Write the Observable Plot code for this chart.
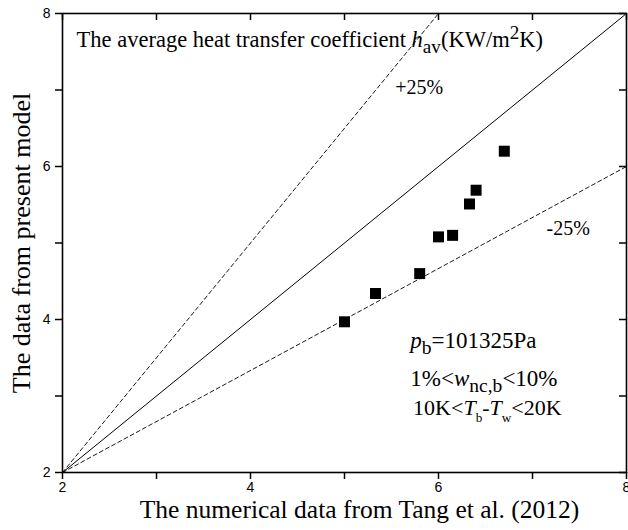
<!DOCTYPE html>
<html>
<head>
<meta charset="utf-8">
<script src="https://cdn.jsdelivr.net/npm/d3@7"></script>
<script src="https://cdn.jsdelivr.net/npm/@observablehq/plot@0.6"></script>
<style>
  html, body { margin: 0; padding: 0; background: #fff; }
  #chart { width: 628px; height: 530px; }
</style>
</head>
<body>
<div id="chart"></div>
<script>
// Axis ticks
const majorTicks = [2, 4, 6, 8];
const minorTicks = [3, 5, 7];
const allTicks = [2, 3, 4, 5, 6, 7, 8];

// Reference data (Tang et al. 2012) vs. present model, h_av in KW/m²K
const tangData = [5.00, 5.33, 5.80, 6.00, 6.15, 6.33, 6.40, 6.70];
const modelData = [3.97, 4.34, 4.60, 5.08, 5.10, 5.51, 5.69, 6.20];

// Agreement line and ±25% bands (end points)
const equalLine = [[2, 2], [8, 8]];
const plusLine = [[2, 2], [6, 8]];
const minusLine = [[2, 2], [8, 6]];

// Axis titles
const xTitle = "The numerical data from Tang et al. (2012)";
const yTitle = "The data from present model";

// Annotations: position, font size and styled text runs
const annotations = [
  {x: 2.15, y: 7.66, size: 22.5, parts: [["The average heat transfer coefficient "], ["h", "i"], ["av", "sub"], ["(KW/m"], ["2", "sup"], ["K)"]]},
  {x: 5.54, y: 7.03, size: 20, parts: [["+25%"]]},
  {x: 7.15, y: 5.19, size: 20, parts: [["-25%"]]},
  {x: 5.70, y: 3.73, size: 23, parts: [["p", "i"], ["b", "sub"], ["=101325Pa"]]},
  {x: 5.70, y: 3.23, size: 23, parts: [["1%<"], ["w", "i"], ["nc,b", "sub"], ["<10%"]]},
  {x: 5.73, y: 2.85, size: 22, parts: [["10K<"], ["T", "i"], ["b", "ssub"], ["-"], ["T", "i"], ["w", "ssub"], ["<20K"]]}
];

const points = tangData.map((x, i) => ({x, y: modelData[i]}));
const serif = "'Liberation Serif', 'Times New Roman', serif";

const W = 628, H = 530;
const mL = 62, mR = 2, mT = 13, mB = 58;
const frameW = W - mL - mR, frameH = H - mT - mB;
const tick = 7;
const fmt = d => String(d);

const chart = Plot.plot({
  width: W,
  height: H,
  marginLeft: mL,
  marginRight: mR,
  marginTop: mT,
  marginBottom: mB,
  style: {fontFamily: "'Liberation Sans', Arial, sans-serif", fontSize: "14px", background: "#fff", color: "#000"},
  x: {domain: [2, 8], axis: null},
  y: {domain: [2, 8], axis: null},
  marks: [
    Plot.line(equalLine, {x: d => d[0], y: d => d[1], stroke: "#000", strokeWidth: 1}),
    Plot.line(plusLine, {x: d => d[0], y: d => d[1], stroke: "#000", strokeWidth: 0.9, strokeDasharray: "4,3"}),
    Plot.line(minusLine, {x: d => d[0], y: d => d[1], stroke: "#000", strokeWidth: 0.9, strokeDasharray: "4,3"}),
    Plot.dot(points, {x: "x", y: "y", symbol: "square", r: 6.2, fill: "#000", stroke: "none"}),
    // bottom and left axes, ticks outward
    Plot.axisX(majorTicks, {anchor: "bottom", label: null, tickSize: tick, tickPadding: 3, tickFormat: fmt, strokeWidth: 1.5}),
    Plot.axisX(minorTicks, {anchor: "bottom", label: null, tickSize: tick, tickFormat: () => "", strokeWidth: 1.5}),
    Plot.axisY(majorTicks, {anchor: "left", label: null, tickSize: tick, tickPadding: 5, tickFormat: fmt, strokeWidth: 1.5}),
    Plot.axisY(minorTicks, {anchor: "left", label: null, tickSize: tick, tickFormat: () => "", strokeWidth: 1.5}),
    // top and right ticks, pointing inward
    Plot.tickX(allTicks, {x: d => d, stroke: "#000", strokeWidth: 1.5, insetBottom: frameH - tick}),
    Plot.tickY(allTicks, {y: d => d, stroke: "#000", strokeWidth: 1.5, insetLeft: frameW - tick}),
    Plot.frame({stroke: "#000", strokeWidth: 1.6}),
    // axis titles
    Plot.text([xTitle], {frameAnchor: "bottom", dx: 15, dy: 45, fontFamily: serif, fontSize: 25.5, fill: "#000"}),
    Plot.text([yTitle], {frameAnchor: "left", textAnchor: "middle", rotate: -90, dx: -41, fontFamily: serif, fontSize: 26, fill: "#000"}),
    // annotations
    Plot.text(annotations, {x: "x", y: "y", text: d => d.parts.map(p => p[0]).join(""), textAnchor: "start",
      fontFamily: serif, fontSize: d => d.size, fill: "#000", className: "annot"})
  ]
});

// Rebuild annotation labels with italics, subscripts and superscripts
d3.select(chart).selectAll("g.annot text").each(function (i) {
  const a = annotations[i];
  const t = d3.select(this).text(null).attr("font-size", a.size);
  let shift = 0;
  for (const [s, kind] of a.parts) {
    const offset = kind === "sub" ? 6 : kind === "ssub" ? 7 : kind === "sup" ? -8 : 0;
    const ts = t.append("tspan").text(s).attr("dy", offset - shift);
    shift = offset;
    if (kind === "sub" || kind === "sup") ts.attr("font-size", "0.85em");
    if (kind === "ssub") ts.attr("font-size", "0.6em");
    if (kind === "i") ts.attr("font-style", "italic");
  }
});

document.getElementById("chart").appendChild(chart);
</script>
</body>
</html>
